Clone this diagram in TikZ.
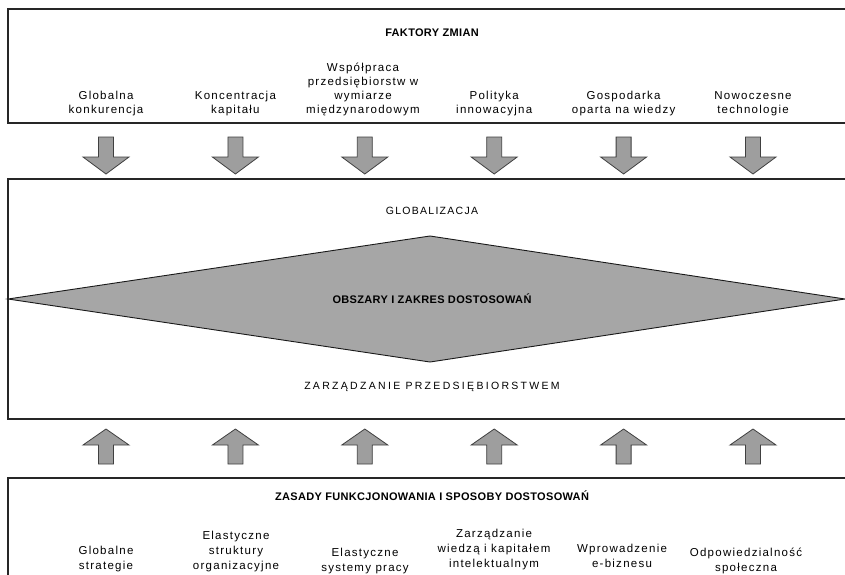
\documentclass[tikz,border=0pt]{standalone}
\usepackage{fontspec}
\setmainfont{Liberation Sans}
\begin{document}
\begin{tikzpicture}[x=1pt,y=-1pt,
  frame/.style={draw=black!85,line width=1.1pt},
  blockarrow/.style={draw=black!75,line width=0.8pt,fill=black!38},
  rhomb/.style={draw=black!90,line width=0.9pt,fill=black!35},
  hdr/.style={inner sep=0pt,font={\fontsize{11}{14}\selectfont\bfseries\addfontfeatures{LetterSpace=3}}},
  captext/.style={inner sep=0pt,font={\fontsize{10.5}{14}\selectfont\addfontfeatures{LetterSpace=12}}},
  widecap/.style={inner sep=0pt,font={\fontsize{10.5}{14}\selectfont\addfontfeatures{LetterSpace=22}}},
  item/.style={inner sep=0pt,align=center,anchor=south,font={\fontsize{11.5}{14}\selectfont\addfontfeatures{LetterSpace=11}}},
  itemb/.style={item,font={\fontsize{11.5}{15}\selectfont\addfontfeatures{LetterSpace=11}}}
]
\useasboundingbox (0,0) rectangle (845,574);
\clip (0,0) rectangle (845,574);
\fill[white] (0,0) rectangle (845,574);

% frames
\draw[frame] (8,9) rectangle (852,123);
\draw[frame] (8,179) rectangle (852,419);
\draw[frame] (8,478) rectangle (852,592);

% diamond
\draw[rhomb] (8,299) -- (430,236) -- (845,299) -- (430,362) -- cycle;

% arrows
\foreach \x in {106,235.4,364.8,494.2,623.6,753}{
  \draw[blockarrow] ({\x-7.5},137) -- ({\x+7.5},137) -- ({\x+7.5},157) -- ({\x+23},157)
     -- (\x,174) -- ({\x-23},157) -- ({\x-7.5},157) -- cycle;
  \draw[blockarrow] ({\x-7.5},464) -- ({\x+7.5},464) -- ({\x+7.5},445) -- ({\x+23},445)
     -- (\x,429) -- ({\x-23},445) -- ({\x-7.5},445) -- cycle;
}

% top texts
\node[hdr,anchor=base] (faktory) at (432,36) {FAKTORY ZMIAN};
\node[item] (f1) at (106,118) {Globalna\\konkurencja\strut};
\node[item] (f2) at (235.4,118) {Koncentracja\\kapitału\strut};
\node[item] (f3) at (363,118) {Współpraca\\przedsiębiorstw w\\wymiarze\\międzynarodowym\strut};
\node[item] (f4) at (494.2,118) {Polityka\\innowacyjna\strut};
\node[item] (f5) at (623.6,118) {Gospodarka\\oparta na wiedzy\strut};
\node[item] (f6) at (753,118) {Nowoczesne\\technologie\strut};

% middle texts
\node[captext,anchor=base] (glob) at (432,214) {GLOBALIZACJA};
\node[hdr,anchor=base] (obsz) at (432,303) {OBSZARY I ZAKRES DOSTOSOWAŃ};
\node[widecap,anchor=base] (zarz) at (432,389) {ZARZĄDZANIE PRZEDSIĘBIORSTWEM};

% bottom texts
\node[hdr,anchor=base] (zasady) at (432,500) {ZASADY FUNKCJONOWANIA I SPOSOBY DOSTOSOWAŃ};
\node[itemb] (z1) at (106,574) {Globalne\\strategie\strut};
\node[itemb] (z2) at (236,574) {Elastyczne\\struktury\\organizacyjne\strut};
\node[itemb] (z3) at (365,576) {Elastyczne\\systemy pracy\strut};
\node[itemb] (z4) at (494,572) {Zarządzanie\\wiedzą i kapitałem\\intelektualnym\strut};
\node[itemb] (z5) at (622,572) {Wprowadzenie\\e-biznesu\strut};
\node[itemb] (z6) at (746,576) {Odpowiedzialność\\społeczna\strut};
\end{tikzpicture}
\end{document}
